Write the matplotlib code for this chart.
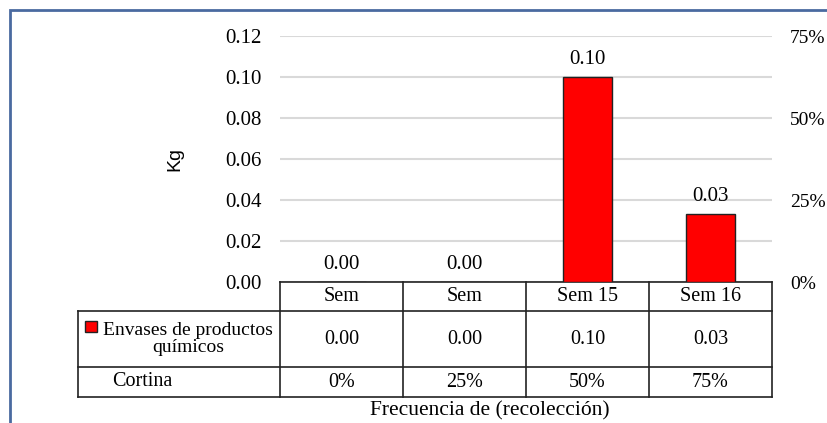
import matplotlib.pyplot as plt
from matplotlib.patches import Rectangle

plt.rcParams['font.family'] = ['Liberation Serif', 'DejaVu Serif']

categories = ["Sem", "Sem", "Sem 15", "Sem 16"]
envases = [0.0, 0.0, 0.10, 0.033]
cortina = ["0%", "25%", "50%", "75%"]
yticks = [0.0, 0.02, 0.04, 0.06, 0.08, 0.10, 0.12]
right_ticks = [0.0, 0.25, 0.50, 0.75]
series_name = "Envases de productos\nquímicos"
row2_name = "Cortina"

W, H = 828, 423
fig = plt.figure(figsize=(W / 100, H / 100), dpi=100)

# plot area in pixels
L, R, T, B = 280, 772, 36, 282
ax = fig.add_axes([L / W, 1 - B / H, (R - L) / W, (B - T) / H])

x = list(range(len(categories)))
ax.bar(x, envases, width=0.4, color="#ff0000", edgecolor="#222222",
       linewidth=1.0, zorder=3)
for xi, v in zip(x, envases):
    ax.text(xi, v + 0.004, f"{v:.2f}", ha="center", va="bottom",
            fontsize=15, zorder=4)

ax.set_xlim(-0.5, len(categories) - 0.5)
ax.set_ylim(0, 0.12)
ax.set_yticks(yticks)
ax.set_yticklabels([f"{t:.2f}" for t in yticks], fontsize=15)
ax.yaxis.grid(True, color="#d9d9d9", linewidth=1.5, zorder=0)
ax.set_axisbelow(True)
ax.tick_params(axis="y", length=0, pad=13)
ax.set_xticks([])
for s in ax.spines.values():
    s.set_visible(False)

ax.text(-0.5 - (L - 175) / 123, 0.06, "Kg", rotation=90,
        ha="center", va="center", fontsize=14, family=["Liberation Sans"])

# secondary axis
ax2 = ax.twinx()
ax2.set_ylim(0, 0.75)
ax2.set_yticks(right_ticks)
ax2.set_yticklabels([f"{int(t * 100)}%" for t in right_ticks], fontsize=14)
ax2.tick_params(axis="y", length=0, pad=13)
for s in ax2.spines.values():
    s.set_visible(False)

# data table below the plot (x in data units, y in axes fraction)
tr = ax.get_xaxis_transform()
hpx = B - T
y_head = -(311 - B) / hpx
y_row1 = -(367 - B) / hpx
y_row2 = -(397 - B) / hpx
x_left = -0.5 - (L - 78) / 123
x_right = len(categories) - 0.5
lc = "#222222"
lw = 1.2

ax.plot([-0.5, x_right], [0, 0], transform=tr, color=lc, lw=lw, clip_on=False)
for yy in (y_head, y_row1, y_row2):
    ax.plot([x_left, x_right], [yy, yy], transform=tr, color=lc, lw=lw,
            clip_on=False)
ax.plot([x_left, x_left], [y_head, y_row2], transform=tr, color=lc, lw=lw,
        clip_on=False)
for xb in [i - 0.5 for i in range(len(categories) + 1)]:
    ax.plot([xb, xb], [0, y_row2], transform=tr, color=lc, lw=lw,
            clip_on=False)

for xi, cat, v, c in zip(x, categories, envases, cortina):
    ax.text(xi, y_head / 2, cat, transform=tr, ha="center", va="center",
            fontsize=14.5)
    ax.text(xi, (y_head + y_row1) / 2, f"{v:.2f}", transform=tr,
            ha="center", va="center", fontsize=14.5)
    ax.text(xi, (y_row1 + y_row2) / 2, c, transform=tr, ha="center",
            va="center", fontsize=14.5)

# legend key + row labels
fig.patches.append(Rectangle((85 / W, 1 - 332 / H), 12 / W, 11 / H,
                             transform=fig.transFigure, facecolor="#ff0000",
                             edgecolor="#222222", lw=1.0))
fig.text(188 / W, 1 - 339 / H, series_name, ha="center", va="center",
         fontsize=14, linespacing=1.05)
fig.text(142 / W, 1 - 381 / H, row2_name, ha="center", va="center",
         fontsize=14.5)

fig.text(490 / W, 1 - 411 / H, "Frecuencia de (recolección)", ha="center",
         va="center", fontsize=15.5)

# outer frame
fig.patches.append(Rectangle((10 / W, -0.1), 1.2, 1 - 10 / H + 0.1,
                             transform=fig.transFigure, fill=False,
                             edgecolor="#4a6aa0", lw=2))

fig.savefig("out.png", dpi=100)
